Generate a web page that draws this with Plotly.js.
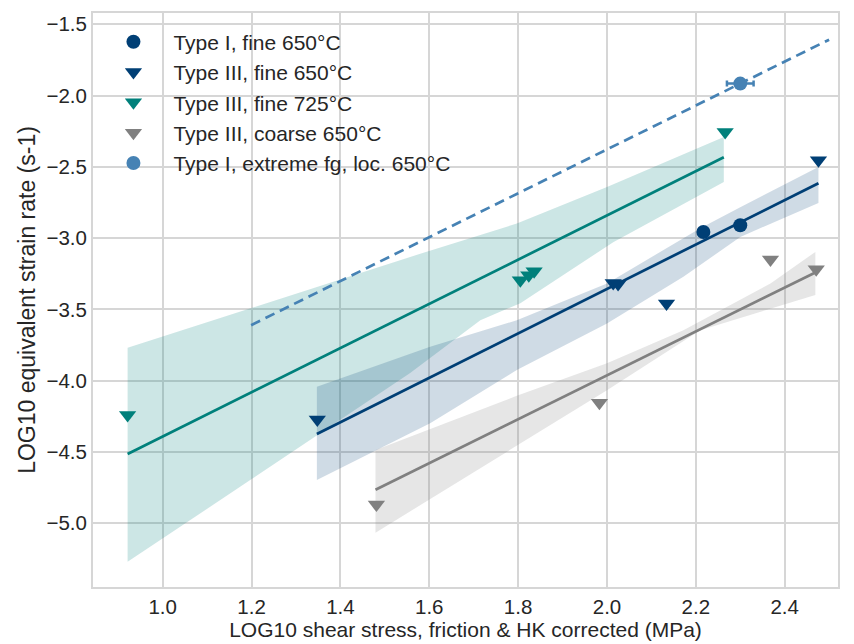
<!DOCTYPE html>
<html>
<head>
<meta charset="utf-8">
<script src="https://cdn.plot.ly/plotly-3.0.1.min.js"></script>
<style>html,body{margin:0;padding:0;background:#fff;}#chart{width:854px;height:644px;}</style>
</head>
<body>
<div id="chart"></div>
<script>
// ---- data ----
const typeIFine650X = [2.217, 2.300];
const typeIFine650Y = [-2.957, -2.910];

const typeIIIFine650X = [1.348, 2.014, 2.025, 2.134, 2.476];
const typeIIIFine650Y = [-4.273, -3.316, -3.323, -3.459, -2.454];

const typeIIIFine725X = [0.921, 1.805, 1.824, 1.836, 2.266];
const typeIIIFine725Y = [-4.242, -3.295, -3.260, -3.232, -2.255];

const typeIIICoarse650X = [1.481, 1.983, 2.368, 2.471];
const typeIIICoarse650Y = [-4.870, -4.155, -3.150, -3.219];

const extremeX = [2.300];
const extremeY = [-1.916];
const extremeXErr = [0.030];

// regression lines (end points)
const fitNavyX = [1.347, 2.476];
const fitNavyY = [-4.375, -2.615];
const fitTealX = [0.921, 2.263];
const fitTealY = [-4.515, -2.433];
const fitGrayX = [1.479, 2.469];
const fitGrayY = [-4.766, -3.241];
const fitDashX = [1.199, 2.500];
const fitDashY = [-3.611, -1.608];

// confidence bands
const bandNavyUpX = [1.347, 1.602, 1.797, 2.000, 2.210, 2.300, 2.476];
const bandNavyUpY = [-4.043, -3.763, -3.576, -3.318, -2.931, -2.783, -2.501];
const bandNavyLoX = [1.347, 1.602, 1.797, 2.000, 2.172, 2.300, 2.476];
const bandNavyLoY = [-4.698, -4.300, -3.926, -3.599, -3.272, -2.992, -2.753];

const bandTealUpX = [0.921, 1.197, 1.557, 1.797, 2.000, 2.263];
const bandTealUpY = [-3.770, -3.494, -3.132, -2.898, -2.641, -2.290];
const bandTealLoX = [0.921, 1.197, 1.557, 1.715, 1.805, 2.014, 2.263];
const bandTealLoY = [-5.271, -4.698, -3.947, -3.576, -3.457, -3.029, -2.606];

const bandGrayUpX = [1.479, 1.797, 2.000, 2.172, 2.368, 2.469];
const bandGrayUpY = [-4.487, -4.107, -3.879, -3.646, -3.318, -3.097];
const bandGrayLoX = [1.479, 2.000, 2.210, 2.469];
const bandGrayLoY = [-5.067, -4.067, -3.646, -3.400];

const xTickVals = [1.0, 1.2, 1.4, 1.6, 1.8, 2.0, 2.2, 2.4];
const yTickVals = [-5.0, -4.5, -4.0, -3.5, -3.0, -2.5, -2.0, -1.5];

const legendNames = ["Type I, fine 650°C", "Type III, fine 650°C", "Type III, fine 725°C",
                     "Type III, coarse 650°C", "Type I, extreme fg, loc. 650°C"];

// ---- styles ----
const NAVY = "#003f75", TEAL = "#00807b", GRAY = "#808080", STEEL = "#4682b4";
const FONT = "Liberation Sans, Arial, sans-serif";

function band(upX, upY, loX, loY, color) {
  return {
    x: upX.concat(loX.slice().reverse()),
    y: upY.concat(loY.slice().reverse()),
    type: "scatter", mode: "lines", fill: "toself",
    fillcolor: color, line: {width: 0}, hoverinfo: "skip", showlegend: false
  };
}
function fit(x, y, color, dash) {
  return {x: x, y: y, type: "scatter", mode: "lines",
          line: {color: color, width: 2.7, dash: dash || "solid"},
          showlegend: false, hoverinfo: "skip"};
}

const traces = [
  band(bandTealUpX, bandTealUpY, bandTealLoX, bandTealLoY, "rgba(0,128,123,0.20)"),
  band(bandNavyUpX, bandNavyUpY, bandNavyLoX, bandNavyLoY, "rgba(0,63,117,0.19)"),
  band(bandGrayUpX, bandGrayUpY, bandGrayLoX, bandGrayLoY, "rgba(128,128,128,0.20)"),
  fit(fitTealX, fitTealY, TEAL),
  fit(fitNavyX, fitNavyY, NAVY),
  fit(fitGrayX, fitGrayY, GRAY),
  fit(fitDashX, fitDashY, STEEL, "10px,6px"),
  {x: typeIFine650X, y: typeIFine650Y, type: "scatter", mode: "markers", name: legendNames[0],
   legendgroup: "a", marker: {symbol: "circle", size: 14, color: NAVY}},
  {x: typeIIIFine650X, y: typeIIIFine650Y, type: "scatter", mode: "markers", name: legendNames[1],
   legendgroup: "b", marker: {symbol: "triangle-down", size: 15, color: NAVY}},
  {x: typeIIIFine725X, y: typeIIIFine725Y, type: "scatter", mode: "markers", name: legendNames[2],
   legendgroup: "c", marker: {symbol: "triangle-down", size: 15, color: TEAL}},
  {x: typeIIICoarse650X, y: typeIIICoarse650Y, type: "scatter", mode: "markers", name: legendNames[3],
   legendgroup: "d", marker: {symbol: "triangle-down", size: 15, color: GRAY}},
  {x: extremeX, y: extremeY, type: "scatter", mode: "markers", name: legendNames[4],
   legendgroup: "e", marker: {symbol: "circle", size: 14, color: STEEL},
   error_x: {type: "data", array: extremeXErr, color: STEEL, thickness: 2.5, width: 3}}
];

const tickFont = {family: FONT, size: 20.5, color: "#262626"};
const layout = {
  width: 854, height: 644,
  margin: {l: 93, r: 16, t: 13, b: 57},
  paper_bgcolor: "#ffffff", plot_bgcolor: "#ffffff",
  showlegend: true,
  legend: {x: 0.0006, y: 0.985, xanchor: "left", yanchor: "top", itemwidth: 70,
           bgcolor: "rgba(255,255,255,0)", borderwidth: 0, tracegroupgap: 0,
           font: {family: FONT, size: 21, color: "#262626"}},
  xaxis: {range: [0.8431, 2.52], tickvals: xTickVals, tickformat: ".1f",
          showgrid: true, gridcolor: "#d6d6d6", gridwidth: 2, zeroline: false,
          showline: true, linecolor: "#d6d6d6", linewidth: 2, mirror: true,
          ticks: "", tickfont: tickFont, automargin: false,
          title: {text: "LOG10 shear stress, friction & HK corrected (MPa)",
                  font: {family: FONT, size: 21, color: "#262626"}, standoff: 6}},
  yaxis: {range: [-5.448, -1.4208], tickvals: yTickVals, tickformat: ".1f",
          showgrid: true, gridcolor: "#d6d6d6", gridwidth: 2, zeroline: false,
          showline: true, linecolor: "#d6d6d6", linewidth: 2, mirror: true,
          ticks: "", tickfont: tickFont, automargin: false,
          title: {text: "LOG10 equivalent strain rate (s-1)",
                  font: {family: FONT, size: 23, color: "#262626"}, standoff: 4}}
};

Plotly.newPlot("chart", traces, layout, {displayModeBar: false, staticPlot: true});
</script>
</body>
</html>
